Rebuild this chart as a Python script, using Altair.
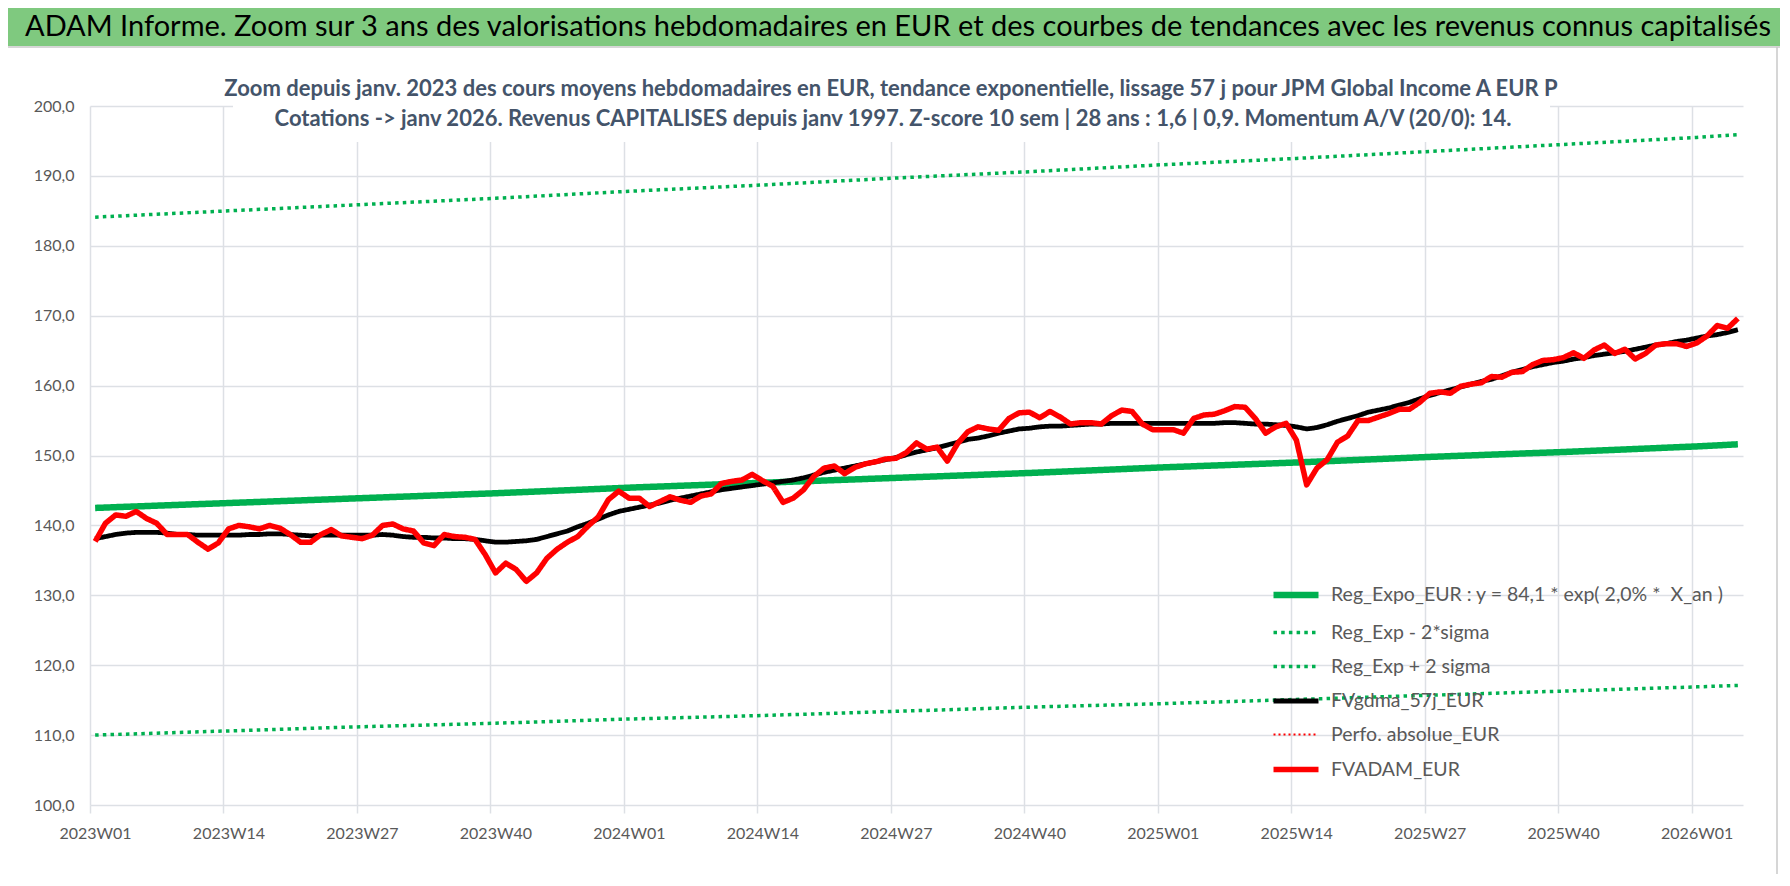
import json
import altair as alt
import pandas as pd

FONT = "Lato"

TITLE = "ADAM Informe. Zoom sur 3 ans des valorisations hebdomadaires en EUR et des courbes de tendances avec les revenus connus capitalisés"
SUB1 = "Zoom depuis janv. 2023 des cours moyens hebdomadaires en EUR, tendance exponentielle, lissage 57 j pour JPM Global Income A EUR P"
SUB2 = "Cotations -> janv 2026. Revenus CAPITALISES depuis janv 1997. Z-score 10 sem | 28 ans : 1,6 | 0,9. Momentum A/V (20/0): 14."

SERIES = [
    "Reg_Expo_EUR : y = 84,1 * exp( 2,0% * \u00a0X_an )",
    "Reg_Exp - 2*sigma",
    "Reg_Exp + 2 sigma",
    "FVgdma_57j_EUR",
    "Perfo. absolue_EUR",
    "FVADAM_EUR",
]
COLORS = ["#00B050", "#00B050", "#00B050", "#000000", "#FF0000", "#FF0000"]
DASHES = [[1, 0], [3.5, 4.2], [3.5, 4.2], [1, 0], [2, 3], [1, 0]]
WIDTHS = [6.5, 3.5, 3.5, 4.8, 2, 5.5]

TICK_POS = [0, 13, 26, 39, 52, 65, 78, 91, 104, 117, 130, 143, 156]
TICK_LABELS = ["2023W01", "2023W14", "2023W27", "2023W40", "2024W01", "2024W14", "2024W27",
               "2024W40", "2025W01", "2025W14", "2025W27", "2025W40", "2026W01"]

# weekly series, week index 0 = 2023W01
FVADAM = [
    137.7, 140.3, 141.5, 141.3, 142.0, 141.0, 140.3, 138.7, 138.7, 138.7,
    137.6, 136.6, 137.5, 139.5, 140.0, 139.8, 139.5, 140.0, 139.6, 138.7,
    137.6, 137.6, 138.7, 139.4, 138.5, 138.3, 138.1, 138.6, 140.0, 140.2,
    139.5, 139.2, 137.5, 137.1, 138.7, 138.4, 138.3, 138.0, 135.8, 133.2,
    134.6, 133.7, 132.0, 133.2, 135.3, 136.6, 137.6, 138.4, 139.9, 141.2,
    143.7, 144.9, 143.9, 143.9, 142.7, 143.4, 144.1, 143.6, 143.3, 144.2,
    144.5, 146.0, 146.3, 146.5, 147.3, 146.4, 145.6, 143.3, 143.9, 145.1,
    147.0, 148.2, 148.5, 147.4, 148.3, 148.8, 149.1, 149.5, 149.6, 150.4,
    151.8, 150.9, 151.2, 149.2, 151.7, 153.4, 154.1, 153.8, 153.6, 155.3,
    156.1, 156.2, 155.4, 156.3, 155.5, 154.5, 154.7, 154.7, 154.5, 155.7,
    156.5, 156.3, 154.5, 153.7, 153.7, 153.7, 153.2, 155.3, 155.8, 155.9,
    156.4, 157.0, 156.9, 155.3, 153.2, 154.1, 154.6, 152.2, 145.8, 148.2,
    149.4, 151.9, 152.8, 155.0, 155.0, 155.5, 156.0, 156.6, 156.6, 157.6,
    158.9, 159.1, 158.9, 159.9, 160.2, 160.4, 161.3, 161.2, 161.9, 162.0,
    163.0, 163.6, 163.7, 164.0, 164.7, 163.9, 165.1, 165.8, 164.6, 165.2,
    163.8, 164.6, 165.8, 166.0, 166.0, 165.6, 166.1, 167.1, 168.6, 168.2,
    169.6,
]
FVGDMA = [
    138.1, 138.4, 138.7, 138.9, 139.0, 139.0, 139.0, 138.9, 138.7, 138.7,
    138.6, 138.6, 138.6, 138.6, 138.6, 138.7, 138.7, 138.8, 138.8, 138.7,
    138.6, 138.5, 138.6, 138.6, 138.6, 138.6, 138.6, 138.6, 138.7, 138.6,
    138.4, 138.3, 138.3, 138.2, 138.2, 138.1, 138.1, 138.0, 137.8, 137.6,
    137.6, 137.7, 137.8, 138.0, 138.4, 138.8, 139.2, 139.8, 140.3, 140.9,
    141.5, 142.0, 142.3, 142.6, 142.9, 143.2, 143.6, 143.9, 144.2, 144.5,
    144.8, 145.1, 145.3, 145.5, 145.7, 145.9, 146.1, 146.3, 146.5, 146.8,
    147.2, 147.6, 147.9, 148.2, 148.5, 148.8, 149.1, 149.4, 149.7, 150.1,
    150.5, 150.8, 151.1, 151.5, 151.9, 152.3, 152.5, 152.8, 153.2, 153.5,
    153.8, 153.9, 154.1, 154.2, 154.2, 154.3, 154.4, 154.5, 154.5, 154.6,
    154.6, 154.6, 154.6, 154.6, 154.6, 154.6, 154.6, 154.6, 154.6, 154.6,
    154.7, 154.7, 154.6, 154.5, 154.5, 154.4, 154.3, 154.1, 153.8, 154.0,
    154.4, 154.9, 155.3, 155.7, 156.2, 156.5, 156.8, 157.2, 157.6, 158.1,
    158.6, 159.0, 159.4, 159.8, 160.2, 160.6, 160.9, 161.4, 161.9, 162.3,
    162.7, 163.0, 163.3, 163.5, 163.8, 164.0, 164.3, 164.5, 164.7, 164.9,
    165.2, 165.5, 165.8, 166.0, 166.3, 166.5, 166.8, 167.1, 167.3, 167.6,
    168.0,
]
# trend curves read at the 13-week gridlines and at the last week
TREND_WEEKS = [0, 13, 26, 39, 52, 65, 78, 91, 104, 117, 130, 143, 156, 160]
REG = [142.5, 143.2, 143.9, 144.6, 145.4, 146.1, 146.8, 147.5, 148.3, 149.0, 149.8, 150.5, 151.3, 151.6]
REG_UP = [184.1, 185.0, 185.9, 186.8, 187.8, 188.7, 189.7, 190.6, 191.6, 192.5, 193.5, 194.5, 195.5, 195.9]
REG_LOW = [110.0, 110.6, 111.2, 111.7, 112.3, 112.8, 113.4, 114.0, 114.5, 115.1, 115.7, 116.3, 116.9, 117.1]

rows = []
for key, name, weeks, vals in [
    ("up", SERIES[2], TREND_WEEKS, REG_UP),
    ("low", SERIES[1], TREND_WEEKS, REG_LOW),
    ("reg", SERIES[0], TREND_WEEKS, REG),
    ("gdma", SERIES[3], list(range(len(FVGDMA))), FVGDMA),
    ("adam", SERIES[5], list(range(len(FVADAM))), FVADAM),
]:
    for w, v in zip(weeks, vals):
        rows.append({"key": key, "series": name, "week": w, "v": v})
df = pd.DataFrame(rows)

GRID = "#dde0e5"
LABEL = "#595959"

label_expr = f"{json.dumps(TICK_LABELS)}[indexof({json.dumps(TICK_POS)}, datum.value)]"

x_enc = alt.X(
    "xpos:Q",
    scale=alt.Scale(domain=[0, 161], nice=False, zero=False),
    axis=alt.Axis(values=TICK_POS, labelExpr=label_expr, title=None, grid=True,
                  gridColor=GRID, gridWidth=1.5, domain=False, ticks=True, tickColor=GRID,
                  tickWidth=1.5, tickSize=8, labelFont=FONT, labelFontSize=16, labelColor=LABEL,
                  labelPadding=12, labelOffset=5, labelAngle=0, labelOverlap=False, labelFlush=False),
)
y_enc = alt.Y(
    "v:Q",
    scale=alt.Scale(domain=[100, 200], nice=False, zero=False),
    axis=alt.Axis(values=list(range(100, 201, 10)),
                  labelExpr="replace(format(datum.value, '.1f'), '.', ',')",
                  title=None, grid=True, gridColor=GRID, gridWidth=1.5, domain=False,
                  ticks=False, labelFont=FONT, labelFontSize=16, labelColor=LABEL, labelPadding=16),
)
legend = alt.Legend(
    title=None, orient="none", legendX=1180, legendY=463, symbolType="stroke",
    symbolSize=2025, labelFont=FONT, labelFontSize=19.5, labelColor=LABEL, labelLimit=800,
    padding=0, rowPadding=-18.3, labelOffset=9,
)
color_enc = alt.Color("series:N", scale=alt.Scale(domain=SERIES, range=COLORS), legend=legend)
dash_enc = alt.StrokeDash("series:N", scale=alt.Scale(domain=SERIES, range=DASHES), legend=legend)
width_enc = alt.StrokeWidth("series:N", scale=alt.Scale(type="ordinal", domain=SERIES, range=WIDTHS),
                            legend=legend)

base = alt.Chart(df).transform_calculate(xpos="datum.week + 0.5").encode(
    x=x_enc, y=y_enc, color=color_enc, strokeDash=dash_enc, strokeWidth=width_enc
)
line_layers = [
    base.transform_filter(alt.datum.key == k).mark_line(strokeJoin="round", strokeCap="butt")
    for k in ["up", "low", "reg", "gdma", "adam"]
]

one = alt.Data(values=[{"a": 1}])
header_bar = alt.Chart(one).mark_rect(color="#7fc97f").encode(
    x=alt.value(-82), x2=alt.value(1690), y=alt.value(-98), y2=alt.value(-60)
)
header_line = alt.Chart(one).mark_rule(color="#c8c8c8", strokeWidth=1.5).encode(
    x=alt.value(-82), x2=alt.value(1690), y=alt.value(-59)
)
right_line = alt.Chart(one).mark_rule(color="#c8c8c8", strokeWidth=1.5).encode(
    x=alt.value(1687), y=alt.value(-59), y2=alt.value(768)
)
title_box = alt.Chart(one).mark_rect(color="white").encode(
    x=alt.value(143), x2=alt.value(1460), y=alt.value(-46), y2=alt.value(36)
)
title_txt = alt.Chart(alt.Data(values=[{"t": TITLE}])).mark_text(
    font=FONT, fontSize=29, color="#000000", align="left", baseline="alphabetic"
).encode(x=alt.value(-65), y=alt.value(-70), text="t:N")
sub1_txt = alt.Chart(alt.Data(values=[{"t": SUB1}])).mark_text(
    font=FONT, fontSize=22, fontWeight="bold", color="#44546A", align="center", baseline="alphabetic"
).encode(x=alt.value(801), y=alt.value(-10), text="t:N")
sub2_txt = alt.Chart(alt.Data(values=[{"t": SUB2}])).mark_text(
    font=FONT, fontSize=22, fontWeight="bold", color="#44546A", align="center", baseline="alphabetic"
).encode(x=alt.value(803), y=alt.value(20), text="t:N")

chart = alt.layer(
    header_bar, header_line, right_line, *line_layers, title_box, title_txt, sub1_txt, sub2_txt
).properties(
    width=1653, height=699,
    autosize=alt.AutoSizeParams(type="none"),
    padding={"left": 82, "top": 98, "right": 37, "bottom": 69},
    background="white",
).configure_view(stroke=None)

chart.save("out.html", embed_options={"renderer": "svg", "actions": False})
